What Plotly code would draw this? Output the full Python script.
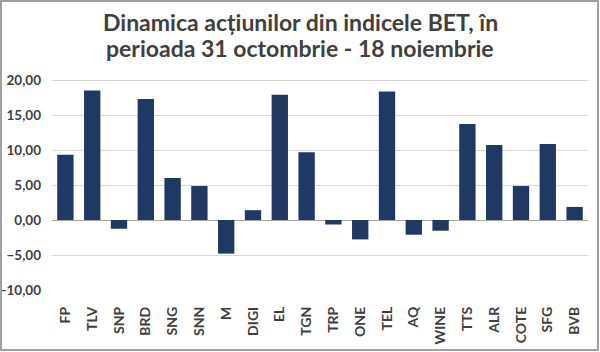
import plotly.graph_objects as go

categories = ["FP", "TLV", "SNP", "BRD", "SNG", "SNN", "M", "DIGI", "EL", "TGN",
              "TRP", "ONE", "TEL", "AQ", "WINE", "TTS", "ALR", "COTE", "SFG", "BVB"]
values = [9.33, 18.50, -1.25, 17.30, 6.00, 4.85, -4.80, 1.40, 17.90, 9.67,
          -0.64, -2.77, 18.37, -2.10, -1.53, 13.73, 10.70, 4.85, 10.85, 1.87]
y_ticks = [-10, -5, 0, 5, 10, 15, 20]
title_lines = ["Dinamica acțiunilor din indicele BET, în",
               "perioada 31 octombrie - 18 noiembrie"]

W, H = 600, 352
ML, MR, MT, MB = 52, 12, 80, 62
pw, ph = W - ML - MR, H - MT - MB

def px_x(p):
    return (p - ML) / pw

def px_y(p):
    return (H - MB - p) / ph

TXT = "#404040"
FONT = "Lato"

fig = go.Figure(go.Bar(x=categories, y=values, marker_color="#1F3864",
                       marker_line_width=0))

title_centers = [22, 48]
annotations = [
    dict(text="<b>" + line + "</b>",
         xref="paper", yref="paper", x=px_x(300), y=px_y(cy),
         xanchor="center", yanchor="middle", showarrow=False,
         font=dict(family=FONT, size=23, color=TXT))
    for line, cy in zip(title_lines, title_centers)
]

fig.update_layout(
    width=W, height=H,
    margin=dict(l=ML, r=MR, t=MT, b=MB, autoexpand=False),
    paper_bgcolor="white", plot_bgcolor="white",
    separators=",.",
    bargap=0.39,
    showlegend=False,
    font=dict(family=FONT, color=TXT),
    xaxis=dict(
        tickangle=-90, automargin=False,
        tickfont=dict(family=FONT, size=14, color=TXT, weight="bold"),
        showgrid=False, showline=False, ticks="",
        ticklabelstandoff=13,
    ),
    yaxis=dict(
        range=[min(y_ticks), max(y_ticks)], automargin=False,
        tickvals=y_ticks, tickformat=".2f",
        tickfont=dict(family=FONT, size=13.5, color=TXT, weight="bold"),
        showgrid=True, gridcolor="#D9D9D9", gridwidth=1,
        zeroline=True, zerolinecolor="#A6A6A6", zerolinewidth=1,
        showline=False, ticks="",
        ticklabelstandoff=10,
    ),
    annotations=annotations,
    shapes=[
        dict(type="line", xref="paper", yref="y", x0=0, x1=1,
             y0=max(y_ticks), y1=max(y_ticks),
             line=dict(color="#A6A6A6", width=1), layer="below"),
        dict(type="rect", xref="paper", yref="paper",
             x0=px_x(1), x1=px_x(598), y0=px_y(350), y1=px_y(1),
             line=dict(color="#A0A0A0", width=2), fillcolor="rgba(0,0,0,0)"),
    ],
)

fig.write_html("out.html")
